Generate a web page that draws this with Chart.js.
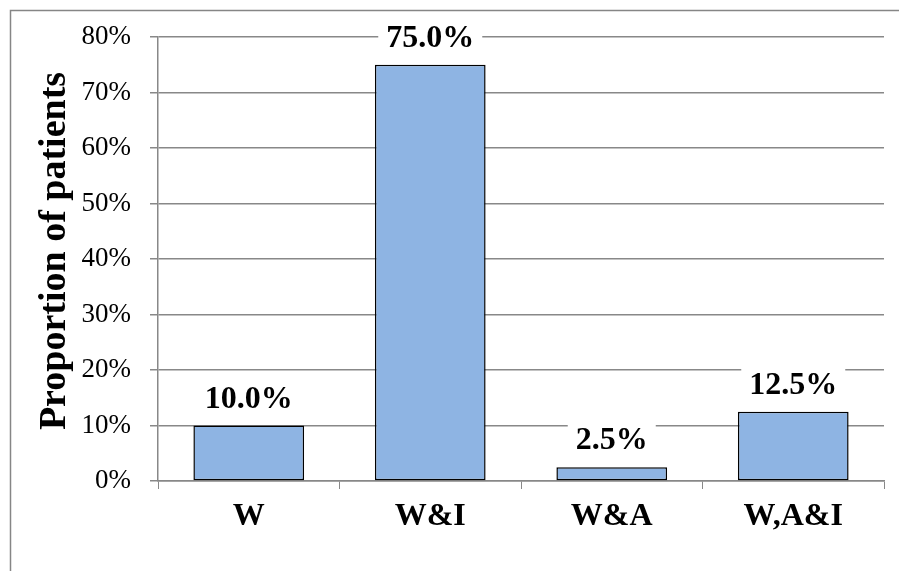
<!DOCTYPE html>
<html>
<head>
<meta charset="utf-8">
<script src="https://cdn.jsdelivr.net/npm/chart.js@4/dist/chart.umd.min.js"></script>
<style>
  html, body { margin: 0; padding: 0; background: #fff; }
  #wrap { width: 899px; height: 571px; }
</style>
</head>
<body>
<div id="wrap"><canvas id="chart" width="899" height="571"></canvas></div>
<script>
// data
const categories = ['W', 'W&I', 'W&A', 'W,A&I'];
const proportions = [10.0, 75.0, 2.5, 12.5];
const yTicks = [0, 10, 20, 30, 40, 50, 60, 70, 80];
const yTitle = 'Proportion of patients';

const SERIF = '"Liberation Serif", "Times New Roman", serif';
const GRID = '#888888';

// outer frame, only top and left edges are visible in the picture
const framePlugin = {
    id: 'frame',
    beforeDraw(chart){
        const ctx = chart.ctx;
        ctx.save();
        ctx.fillStyle = '#fff';
        ctx.fillRect(0, 0, chart.width, chart.height);
        ctx.strokeStyle = '#868686';
        ctx.lineWidth = 1.5;
        ctx.strokeRect(10.5, 10.5, chart.width + 20, chart.height + 20);
        ctx.restore();
    }
};

// rotated y title, sits a little above the plot's middle
const yTitlePlugin = {
    id: 'yTitle',
    afterDraw(chart){
        const ctx = chart.ctx;
        const area = chart.chartArea;
        ctx.save();
        ctx.translate(55, (area.top + area.bottom) / 2 - 8);
        ctx.rotate(-Math.PI / 2);
        ctx.font = 'bold 38px ' + SERIF;
        ctx.fillStyle = '#000';
        ctx.textAlign = 'center';
        ctx.textBaseline = 'middle';
        ctx.fillText(yTitle, 0, 0);
        ctx.restore();
    }
};

// value labels with a white box over the gridlines
const valueLabels = {
    id: 'valueLabels',
    afterDatasetsDraw(chart){
        const ctx = chart.ctx;
        const meta = chart.getDatasetMeta(0);
        ctx.save();
        ctx.font = 'bold 32px ' + SERIF;
        ctx.textAlign = 'center';
        ctx.textBaseline = 'alphabetic';
        meta.data.forEach((bar, i) => {
            const txt = proportions[i].toFixed(1) + '%';
            const w = ctx.measureText(txt).width;
            const cy = bar.y - 29;
            ctx.fillStyle = '#fff';
            ctx.fillRect(bar.x - w / 2 - 8, cy - 18, w + 16, 36);
            ctx.fillStyle = '#000';
            ctx.fillText(txt, bar.x, cy + 11);
        });
        ctx.restore();
    }
};

new Chart(document.getElementById('chart'), {
    type: 'bar',
    data: {
        labels: categories,
        datasets: [{
            data: proportions,
            backgroundColor: '#8EB4E3',
            borderColor: '#000',
            borderWidth: 1.5,
            borderSkipped: false,
            barPercentage: 0.61,
            categoryPercentage: 1
        }]
    },
    options: {
        responsive: false,
        animation: false,
        layout: { padding: { left: 10, right: 15, top: 37, bottom: 0 } },
        plugins: { legend: { display: false }, tooltip: { enabled: false } },
        scales: {
            x: {
                afterFit: s => { s.height = 90; },
                grid: { drawOnChartArea: false, drawTicks: true, tickLength: 8, color: GRID, offset: true },
                border: { color: GRID, width: 1.5 },
                ticks: { color: '#000', padding: 9, font: { family: SERIF, size: 32, weight: 'bold' } }
            },
            y: {
                min: 0,
                max: 80,
                afterFit: s => { s.width = 148; },
                afterBuildTicks: s => { s.ticks = yTicks.map(v => ({ value: v })); },
                grid: { color: GRID, lineWidth: 1.5, tickLength: 8 },
                border: { color: GRID, width: 1.5 },
                ticks: { color: '#000', padding: 19, font: { family: SERIF, size: 27 }, callback: v => v + '%' }
            }
        }
    },
    plugins: [framePlugin, valueLabels, yTitlePlugin]
});
</script>
</body>
</html>
